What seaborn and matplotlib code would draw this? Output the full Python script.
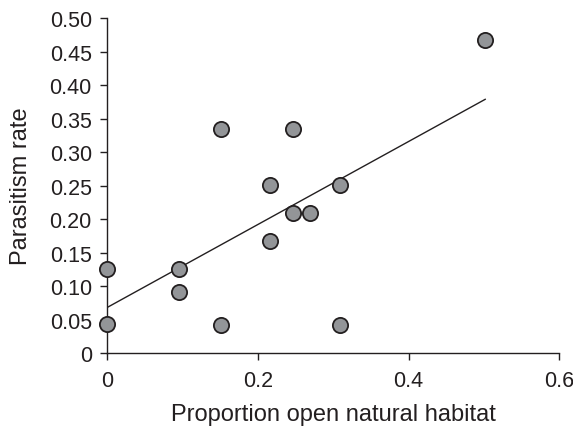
import numpy as np
import pandas as pd
import seaborn as sns
import matplotlib
matplotlib.use('Agg')
import matplotlib.pyplot as plt

# proportion of open natural habitat vs parasitism rate
habitat = [0.0, 0.0, 0.096, 0.096, 0.151, 0.151, 0.216, 0.216,
           0.247, 0.247, 0.269, 0.309, 0.309, 0.502]
parasitism = [0.125, 0.044, 0.125, 0.091, 0.334, 0.042, 0.251, 0.168,
              0.334, 0.209, 0.209, 0.251, 0.042, 0.467]
xticks = [0, 0.2, 0.4, 0.6]
xticklabels = ['0', '0.2', '0.4', '0.6']
yticks = [0, 0.05, 0.10, 0.15, 0.20, 0.25, 0.30, 0.35, 0.40, 0.45, 0.50]
yticklabels = ['0'] + ['%.2f' % v for v in yticks[1:]]

df = pd.DataFrame({'habitat': habitat, 'parasitism': parasitism})

sns.set_style('ticks')
plt.rcParams['font.family'] = ['Liberation Sans', 'DejaVu Sans']
text_color = '#231f20'

fig = plt.figure(figsize=(5.73, 4.27), dpi=100)
ax = fig.add_axes([0.187, 0.171, 0.789, 0.784])

sns.regplot(data=df, x='habitat', y='parasitism', ax=ax, ci=None,
            scatter_kws=dict(s=120, color='#939598', edgecolors=text_color,
                             linewidths=1.3, alpha=1, zorder=3),
            line_kws=dict(color=text_color, lw=1.0, zorder=2))

ax.set_xlim(0, 0.6)
ax.set_ylim(0, 0.5)
ax.set_xticks(xticks)
ax.set_xticklabels(xticklabels)
ax.set_yticks(yticks)
ax.set_yticklabels(yticklabels)
ax.tick_params(labelsize=15.5, colors=text_color, length=5, width=1.0, pad=6)
ax.tick_params(axis='x', pad=7)
for side in ['left', 'bottom']:
    ax.spines[side].set_color(text_color)
    ax.spines[side].set_linewidth(1.0)
sns.despine(ax=ax)
for lab in ax.get_xticklabels() + ax.get_yticklabels():
    lab.set_color(text_color)

ax.set_xlabel('Proportion open natural habitat', fontsize=17, color=text_color, labelpad=9)
ax.set_ylabel('Parasitism rate', fontsize=17, color=text_color, labelpad=13)
for s in ax.collections:
    s.set_clip_on(False)

fig.savefig('out.png', dpi=100)
